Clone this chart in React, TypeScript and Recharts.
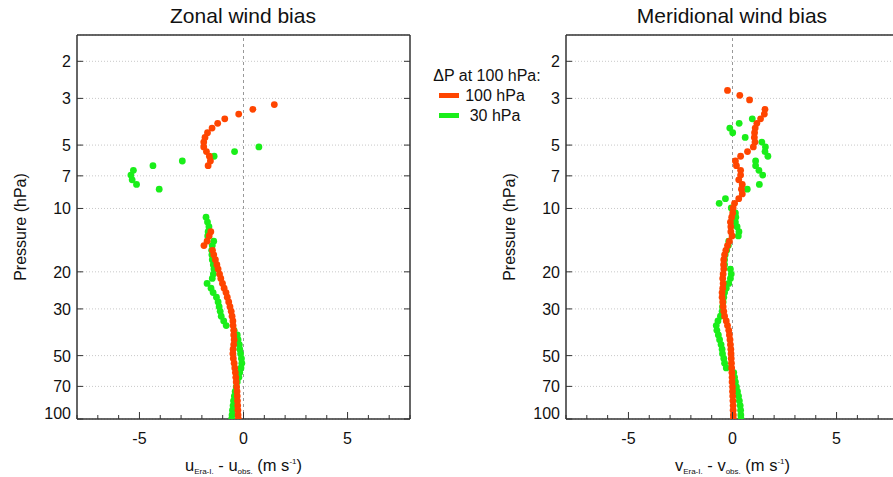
import React from 'react';
import { ScatterChart, Scatter, XAxis, YAxis, CartesianGrid, ReferenceLine } from 'recharts';

// pressure levels (hPa) of the profile points, top to bottom
const levels = [
  2.75, 2.9, 3.05, 3.21, 3.38, 3.56, 3.75, 3.94, 4.15, 4.37, 4.6, 4.84, 5.1, 5.37, 5.65, 5.95, 6.26, 6.59, 6.94, 7.31,
  7.69, 8.1, 8.53, 8.98, 9.45, 9.95, 10.5, 11.0, 11.6, 12.2, 12.9, 13.5, 14.3, 15.0, 15.8, 16.6, 17.5, 18.5, 19.4, 20.5,
  21.5, 22.7, 23.9, 25.1, 26.4, 27.8, 29.3, 30.8, 32.5, 34.2, 36.0, 37.9, 39.9, 42.0, 44.3, 46.6, 49.0, 51.6, 54.3, 57.2,
  60.2, 63.4, 66.7, 70.3, 74.0, 77.8, 82.0, 86.3, 90.8, 95.7, 100,
];

const N = null;

// zonal wind bias (m/s)
const uRed = [
  N, N, N, 1.48, 0.45, -0.23, -0.9, -1.24, -1.51, -1.73, -1.85, -1.91, -1.91, -1.78, -1.64, -1.59, -1.7, N, N, N,
  N, N, N, N, N, N, N, N, N, N, -1.57, -1.65, -1.75, -1.9, -1.49, -1.43, -1.35, -1.28, -1.22, -1.15,
  -1.09, -1.01, -0.93, -0.84, -0.78, -0.71, -0.65, -0.59, -0.55, -0.51, -0.5, -0.47, -0.47, -0.45, -0.47, -0.5, -0.51, -0.49, -0.45, -0.42,
  -0.39, -0.37, -0.35, -0.33, -0.31, -0.3, -0.29, -0.28, -0.27, -0.26, -0.25,
];
const uGreen = [
  N, N, N, N, N, N, N, N, N, N, N, N, 0.74, -0.43, -1.41, -2.94, -4.35, -5.29, -5.41, -5.35,
  -5.14, -4.05, N, N, N, N, N, -1.8, -1.73, -1.66, -1.7, -1.72, -1.43, -1.5, -1.53, -1.52, -1.5, -1.45, -1.42, -1.45,
  -1.5, -1.75, -1.56, -1.46, -1.3, -1.22, -1.17, -1.12, -1.07, -0.95, -0.83, -0.45, -0.3, -0.26, -0.2, -0.18, -0.14, -0.1, -0.08, -0.12,
  -0.18, -0.22, -0.3, -0.35, -0.4, -0.44, -0.48, -0.5, -0.53, -0.55, -0.57,
];

// meridional wind bias (m/s)
const vRed = [
  -0.24, 0.35, 0.82, N, 1.56, 1.53, 1.35, 1.17, 1.09, 1.06, 1.05, 1.08, 1.0, 0.72, 0.39, 0.14, 0.19, 0.39, 0.39, 0.3,
  0.47, 0.43, 0.47, 0.3, 0.1, 0.03, 0.01, -0.04, -0.1, -0.08, -0.08, -0.02, -0.15, -0.24, -0.32, -0.38, -0.42, -0.43, -0.42, -0.45,
  -0.47, -0.45, -0.47, -0.5, -0.5, -0.47, -0.45, -0.42, -0.38, -0.3, -0.24, -0.18, -0.15, -0.12, -0.1, -0.08, -0.07, -0.06, -0.05, -0.04,
  -0.03, -0.02, -0.02, 0.0, 0.0, 0.01, 0.02, 0.03, 0.03, 0.04, 0.04,
];
const vGreen = [
  N, N, N, N, N, N, 0.95, 0.32, -0.13, 0.01, 0.61, 1.41, 1.58, 1.56, 1.7, 1.11, 1.11, 1.27, 1.45, N,
  1.29, 0.71, N, -0.34, -0.64, -0.06, 0.14, 0.16, 0.14, 0.22, 0.31, 0.28, -0.18, -0.2, -0.28, -0.35, -0.38, -0.38, -0.1, -0.06,
  -0.1, -0.18, -0.3, -0.38, -0.42, -0.45, -0.48, -0.5, -0.58, -0.7, -0.78, -0.75, -0.68, -0.62, -0.55, -0.5, -0.48, -0.42, -0.38, -0.3,
  0.06, 0.1, 0.14, 0.19, 0.24, 0.29, 0.33, 0.37, 0.39, 0.4, 0.41,
];

const xTicks = [-8, -7, -6, -5, -4, -3, -2, -1, 0, 1, 2, 3, 4, 5, 6, 7, 8];
const yTicks = [2, 3, 5, 7, 10, 20, 30, 50, 70, 100];
const panelTitles = ['Zonal wind bias', 'Meridional wind bias'];
const legendTitle = '\u0394P at 100 hPa:';
const seriesNames = ['100 hPa', '30 hPa'];

const RED = '#ff4500';
const GREEN = '#1aee1a';
const AXIS = '#333';
const FONT = '"Liberation Sans", Arial, Helvetica, sans-serif';

const toPoints = (vals: (number | null)[]) =>
  levels.map((p, i) => ({ p, v: vals[i] })).filter((d) => d.v !== null);

const BottomTick = ({ x, y, payload }: any) => {
  const major = payload.value % 5 === 0;
  return (
    <g>
      <line x1={x} x2={x} y1={y} y2={y - (major ? 7 : 4)} stroke={AXIS} />
      {major && (
        <text x={x} y={y + 25} textAnchor="middle" fontSize={16} fill="#111">
          {payload.value}
        </text>
      )}
    </g>
  );
};

const TopTick = ({ x, y, payload }: any) => {
  const major = payload.value % 5 === 0;
  return <line x1={x} x2={x} y1={y} y2={y + (major ? 8 : 4)} stroke={AXIS} />;
};

const LeftTick = ({ x, y, payload }: any) => (
  <g>
    <line x1={x} x2={x + 6} y1={y} y2={y} stroke={AXIS} />
    <text x={x - 6} y={y + (payload.value === 100 ? 0 : 6)} textAnchor="end" fontSize={16} fill="#111">
      {payload.value}
    </text>
  </g>
);

const RightTick = ({ x, y }: any) => <line x1={x} x2={x - 6} y1={y} y2={y} stroke={AXIS} />;

const xLabel = (sym: string) => (props: any) => {
  const { viewBox } = props;
  const cx = viewBox.x + viewBox.width / 2;
  return (
    <text x={cx} y={viewBox.y + 52} textAnchor="middle" fontSize={16.5} fill="#111" style={{ whiteSpace: 'pre' }}>
      {sym}
      <tspan fontSize={8} dy={3}>Era-I.</tspan>
      <tspan dy={-3}>{' - ' + sym}</tspan>
      <tspan fontSize={8} dy={3}>obs.</tspan>
      <tspan dy={-3}>{' (m s'}</tspan>
      <tspan fontSize={8} dy={-7}>-1</tspan>
      <tspan dy={7}>)</tspan>
    </text>
  );
};

const yLabel = (props: any) => {
  const { viewBox } = props;
  const x = viewBox.x + 20;
  const y = viewBox.y + viewBox.height / 2;
  return (
    <text x={x} y={y} transform={`rotate(-90 ${x} ${y})`} textAnchor="middle" dominantBaseline="central" fontSize={16} fill="#111">
      Pressure (hPa)
    </text>
  );
};

const dot = (color: string) => (p: any) => <circle cx={p.cx} cy={p.cy} r={3.4} fill={color} />;

function Panel({ red, green, sym }: { red: (number | null)[]; green: (number | null)[]; sym: string }) {
  return (
    <ScatterChart width={460} height={477} margin={{ top: 34, right: 49, bottom: 0, left: 0 }}>
      <CartesianGrid xAxisId="b" yAxisId="l" vertical={false} stroke="#c8c8c8" strokeDasharray="1 2" />
      <XAxis
        xAxisId="b"
        dataKey="v"
        type="number"
        domain={[-8, 8]}
        ticks={xTicks}
        allowDataOverflow
        height={58}
        tickSize={0}
        tickMargin={0}
        tick={<BottomTick />}
        axisLine={{ stroke: AXIS, strokeWidth: 1.5 }}
        label={{ content: xLabel(sym) }}
      />
      <XAxis
        xAxisId="t"
        orientation="top"
        type="number"
        domain={[-8, 8]}
        ticks={xTicks}
        allowDataOverflow
        height={1}
        tickSize={0}
        tickMargin={0}
        tick={<TopTick />}
        axisLine={{ stroke: AXIS, strokeWidth: 1.5 }}
      />
      <YAxis
        yAxisId="l"
        dataKey="p"
        type="number"
        scale="log"
        domain={[1.5, 100]}
        reversed
        ticks={yTicks}
        allowDataOverflow
        width={77}
        tickSize={0}
        tickMargin={0}
        tick={<LeftTick />}
        axisLine={{ stroke: AXIS, strokeWidth: 1.5 }}
        label={{ content: yLabel }}
      />
      <YAxis
        yAxisId="r"
        orientation="right"
        type="number"
        scale="log"
        domain={[1.5, 100]}
        reversed
        ticks={yTicks}
        allowDataOverflow
        width={1}
        tickSize={0}
        tickMargin={0}
        tick={<RightTick />}
        axisLine={{ stroke: AXIS, strokeWidth: 1.5 }}
      />
      <ReferenceLine xAxisId="b" yAxisId="l" x={0} stroke="#999" strokeDasharray="3 3" />
      <Scatter xAxisId="b" yAxisId="l" data={toPoints(green)} shape={dot(GREEN)} isAnimationActive={false} />
      <Scatter xAxisId="b" yAxisId="l" data={toPoints(red)} shape={dot(RED)} isAnimationActive={false} />
    </ScatterChart>
  );
}

const titleStyle = (center: number): React.CSSProperties => ({
  position: 'absolute',
  top: 4,
  left: center - 150,
  width: 300,
  textAlign: 'center',
  fontSize: 21,
  color: '#111',
});

export default function App() {
  return (
    <div style={{ position: 'absolute', left: 0, top: 0, width: 893, height: 477, overflow: 'hidden', background: '#fff', fontFamily: FONT }}>
      <div style={{ position: 'absolute', left: 0, top: 0 }}>
        <Panel red={uRed} green={uGreen} sym="u" />
      </div>
      <div style={{ position: 'absolute', left: 489, top: 0 }}>
        <Panel red={vRed} green={vGreen} sym="v" />
      </div>
      <div style={titleStyle(243)}>{panelTitles[0]}</div>
      <div style={titleStyle(732)}>{panelTitles[1]}</div>
      <div style={{ position: 'absolute', left: 420, top: 66, width: 134, fontSize: 16, color: '#111', lineHeight: '20px' }}>
        <div style={{ textAlign: 'center' }}>{legendTitle}</div>
        {seriesNames.map((name, i) => (
          <div key={name} style={{ position: 'relative', height: 20 }}>
            <span style={{ position: 'absolute', left: 19, top: 7, width: 20, height: 5, background: i === 0 ? RED : GREEN }} />
            <span style={{ position: 'absolute', left: 45, width: 60, textAlign: 'center' }}>{name}</span>
          </div>
        ))}
      </div>
    </div>
  );
}
